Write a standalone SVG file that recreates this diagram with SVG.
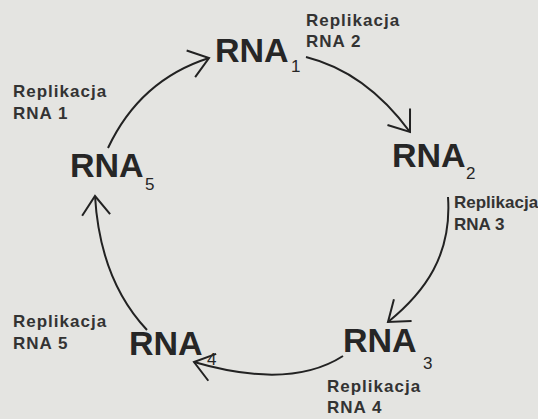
<svg xmlns="http://www.w3.org/2000/svg" width="538" height="419" viewBox="0 0 538 419">
<style>
.bg{fill:#e4e4e1}
.rna{font-family:"Liberation Sans",Arial,sans-serif;font-weight:bold;font-size:34px;fill:#262626}
.sub{font-family:"Liberation Sans",Arial,sans-serif;font-size:17px;fill:#262626}
.lbl{font-family:"Liberation Sans",Arial,sans-serif;font-weight:bold;font-size:17px;letter-spacing:1px;fill:#333}
.arc{fill:none;stroke:#222;stroke-width:2;marker-end:url(#v)}
</style>
<defs>
<marker id="v" markerUnits="userSpaceOnUse" markerWidth="44" markerHeight="44" viewBox="-27 -22 32 44" refX="0" refY="0" orient="auto">
<path d="M-19,-14 L0,0 L-19,14" fill="none" stroke="#222" stroke-width="2"/>
</marker>
</defs>
<rect class="bg" x="0" y="0" width="538" height="419"/>
<g id="connectors">
<path class="arc" d="M306,57 C350,68 385,98 410,132"/>
<path class="arc" d="M448,197 C452,255 425,292 388,322"/>
<path class="arc" d="M343,356 Q290,390 194,362"/>
<path class="arc" d="M147,330 Q100,280 95,196"/>
<path class="arc" d="M108,148 Q140,80 209,58"/>
</g>
<g id="rna1"><text class="rna" x="215" y="62">RNA</text><text class="sub" x="291" y="72">1</text></g>
<g id="rna2"><text class="rna" x="392" y="167">RNA</text><text class="sub" x="466" y="179">2</text></g>
<g id="rna3"><text class="rna" x="343" y="352">RNA</text><text class="sub" x="423" y="369">3</text></g>
<g id="rna4"><text class="rna" x="129" y="355">RNA</text><text class="sub" x="207" y="365">4</text></g>
<g id="rna5"><text class="rna" x="70" y="177">RNA</text><text class="sub" x="145" y="190">5</text></g>
<g id="label1"><text class="lbl" x="13" y="97">Replikacja</text><text class="lbl" x="13" y="119">RNA 1</text></g>
<g id="label2"><text class="lbl" x="306" y="26">Replikacja</text><text class="lbl" x="306" y="47">RNA 2</text></g>
<g id="label3"><text class="lbl" x="454" y="208" style="letter-spacing:0">Replikacja</text><text class="lbl" x="454" y="230" style="letter-spacing:0">RNA 3</text></g>
<g id="label4"><text class="lbl" x="327" y="392">Replikacja</text><text class="lbl" x="327" y="413">RNA 4</text></g>
<g id="label5"><text class="lbl" x="13" y="327">Replikacja</text><text class="lbl" x="13" y="349">RNA 5</text></g>
</svg>
